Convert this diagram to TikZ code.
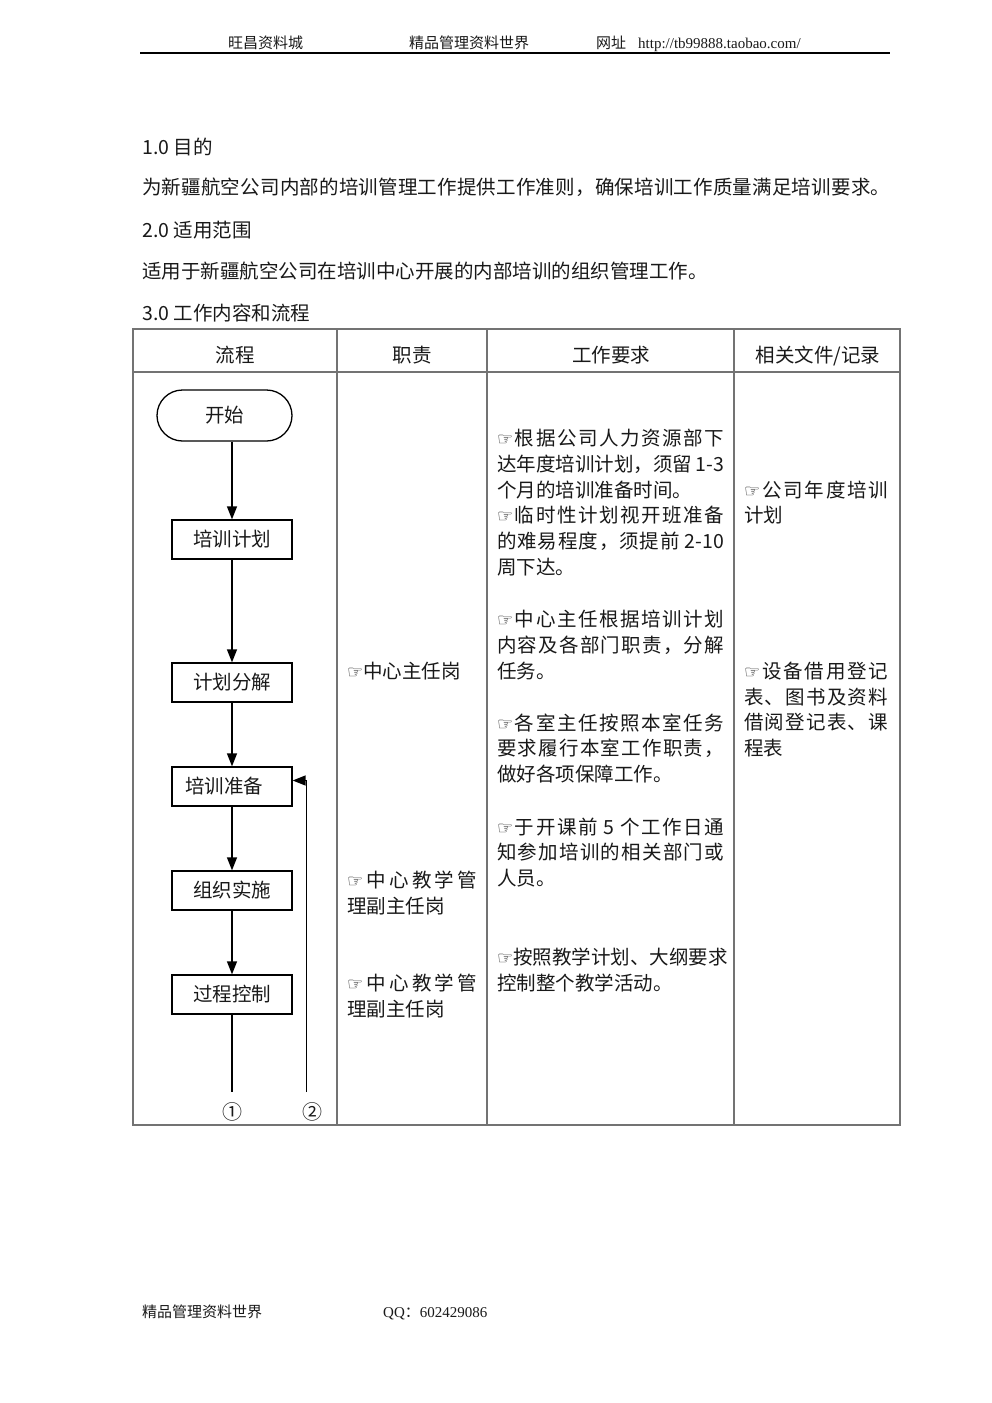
\documentclass[tikz,border=0pt]{standalone}
\usepackage{fontspec}
\setmainfont{Noto Sans CJK SC}
\newfontfamily\handfont{DejaVu Sans}
\newfontfamily\latinserif{Liberation Serif}
\usetikzlibrary{arrows.meta,shapes.misc}
\definecolor{tablegray}{RGB}{115,115,115}
\definecolor{textblack}{RGB}{25,25,25}
\def\spreadend{SPREADEND}
\def\spreadA#1{#1\spreadB}
\def\spreadB#1{\ifx\spreadend#1\else\hfil#1\expandafter\spreadB\fi}
\newcommand\jline[2]{\makebox[#1][s]{\spreadA#2\spreadend}}
\newcommand\hand{{\handfont\fontsize{18pt}{18pt}\selectfont ☞}}
\tikzset{
  txt/.style={font=\fontsize{19.5pt}{22pt}\selectfont, text=textblack, anchor=base west, inner sep=0pt},
  ctxt/.style={txt, anchor=base},
  hdr/.style={font=\fontsize{15pt}{18pt}\selectfont, text=textblack, anchor=base west, inner sep=0pt},
  tbl/.style={draw=tablegray, line width=1.6pt},
  box/.style={draw, line width=1.3pt, minimum width=120pt, minimum height=39pt, inner sep=0pt, font=\fontsize{19.5pt}{22pt}\selectfont, text=textblack},
  term/.style={draw, rounded rectangle, line width=1.3pt, minimum width=135pt, minimum height=51pt, inner sep=0pt, font=\fontsize{19.5pt}{22pt}\selectfont, text=textblack},
  flowline/.style={line width=1.4pt},
  arr/.style={flowline, -{Triangle[length=13pt,width=10pt]}},
  circnum/.style={font=\fontsize{20pt}{22pt}\selectfont, text=textblack, inner sep=0pt}
}
\begin{document}
\begin{tikzpicture}[x=1pt,y=-1pt]
\fill[white] (0,0) rectangle (992,1403);
\useasboundingbox (0,0) rectangle (992,1403);

% page header
\node[hdr] (hd1) at (228,48) {旺昌资料城};
\node[hdr] (hd2) at (409,48) {精品管理资料世界};
\node[hdr] (hd3) at (596,48) {网址};
\node[hdr] (hd4) at (638,48) {\latinserif http://tb99888.taobao.com/};
\draw[line width=1.5pt] (140,53) -- (890,53);

% sections
\node[txt] (s1) at (142,154) {1.0 目的};
\node[txt] (p1) at (142,194) {\jline{748pt}{为新疆航空公司内部的培训管理工作提供工作准则，确保培训工作质量满足培训要求。}};
\node[txt] (s2) at (142,237) {2.0 适用范围};
\node[txt] (p2) at (142,278) {适用于新疆航空公司在培训中心开展的内部培训的组织管理工作。};
\node[txt] (s3) at (142,320) {3.0 工作内容和流程};

% table
\draw[tbl] (133,329) rectangle (900,1125);
\draw[tbl] (133,372) -- (900,372);
\draw[tbl] (337,329) -- (337,1125);
\draw[tbl] (487,329) -- (487,1125);
\draw[tbl] (734,329) -- (734,1125);
\node[ctxt] (h1) at (235,362) {流程};
\node[ctxt] (h2) at (412,362) {职责};
\node[ctxt] (h3) at (611,362) {工作要求};
\node[ctxt] (h4) at (818,362) {相关文件/记录};

% flow chart
\node[term] (start) at (224.5,415.5) {开始};
\node[box] (plan) at (232,539.5) {培训计划};
\node[box] (split) at (232,682.5) {计划分解};
\node[box] (prep) at (232,786.5) {培训准备\hspace*{16pt}};
\node[box] (impl) at (232,890.5) {组织实施};
\node[box] (ctrl) at (232,994.5) {过程控制};
\node[circnum] (c1) at (232,1112) {①};
\node[circnum] (c2) at (312,1112) {②};
\coordinate (e1) at (232,1092);
\coordinate (e2) at (306.5,1092);
\coordinate (e2t) at (306.5,780.5);
\draw[arr] (start.south -| plan.north) -- (plan.north);
\draw[arr] (plan) -- (split);
\draw[arr] (split) -- (prep);
\draw[arr] (prep) -- (impl);
\draw[arr] (impl) -- (ctrl);
\draw[flowline] (ctrl.south) -- (e1);
\draw[arr] (e2) -- (e2t) -- (e2t -| prep.east);

% responsibilities
\node[txt] (r1) at (347,678) {\hand 中心主任岗};
\node[txt] (r2a) at (347,887) {\jline{130pt}{{\hand}中心教学管}};
\node[txt] (r2b) at (347,913) {理副主任岗};
\node[txt] (r3a) at (347,990) {\jline{130pt}{{\hand}中心教学管}};
\node[txt] (r3b) at (347,1016) {理副主任岗};

% work requirements
\node[txt] (w1) at (497,445) {\jline{227pt}{{\hand}根据公司人力资源部下}};
\node[txt] (w2) at (497,471) {\jline{227pt}{达年度培训计划，须留{ 1-3}}};
\node[txt] (w3) at (497,497) {个月的培训准备时间。};
\node[txt] (w4) at (497,522) {\jline{227pt}{{\hand}临时性计划视开班准备}};
\node[txt] (w5) at (497,548) {\jline{227pt}{的难易程度，须提前{ 2-10}}};
\node[txt] (w6) at (497,574) {周下达。};
\node[txt] (w7) at (497,626) {\jline{227pt}{{\hand}中心主任根据培训计划}};
\node[txt] (w8) at (497,652) {\jline{227pt}{内容及各部门职责，分解}};
\node[txt] (w9) at (497,678) {任务。};
\node[txt] (w10) at (497,730) {\jline{227pt}{{\hand}各室主任按照本室任务}};
\node[txt] (w11) at (497,755) {\jline{227pt}{要求履行本室工作职责，}};
\node[txt] (w12) at (497,781) {做好各项保障工作。};
\node[txt] (w13) at (497,834) {\jline{227pt}{{\hand}于开课前{ 5 }个工作日通}};
\node[txt] (w14) at (497,859) {\jline{227pt}{知参加培训的相关部门或}};
\node[txt] (w15) at (497,885) {人员。};
\node[txt] (w16) at (497,964) {\jline{227pt}{{\hand}按照教学计划、大纲要求}};
\node[txt] (w17) at (497,990) {控制整个教学活动。};

% documents / records
\node[txt] (d1) at (744,497) {\jline{144pt}{{\hand}公司年度培训}};
\node[txt] (d2) at (744,522) {计划};
\node[txt] (d3) at (744,678) {\jline{144pt}{{\hand}设备借用登记}};
\node[txt] (d4) at (744,704) {\jline{144pt}{表、图书及资料}};
\node[txt] (d5) at (744,729) {\jline{144pt}{借阅登记表、课}};
\node[txt] (d6) at (744,755) {程表};

% page footer
\node[hdr] (f1) at (142,1317) {精品管理资料世界};
\node[hdr] (f2) at (383,1317) {{\latinserif QQ}：{\latinserif 602429086}};
\end{tikzpicture}
\end{document}
